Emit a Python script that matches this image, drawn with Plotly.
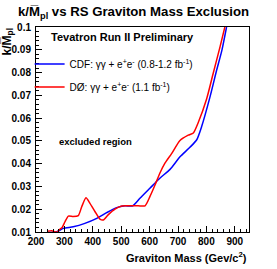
import plotly.graph_objects as go

# CDF: gamma gamma + ee (0.8-1.2 fb^-1)
cdf_mass = [240, 273, 296, 331, 372, 414, 449, 484, 513, 541, 566, 601, 636, 672, 707, 742, 766, 783, 812, 836, 854, 871]
cdf_k = [0.0098, 0.0101, 0.0116, 0.0123, 0.0138, 0.0160, 0.0185, 0.0207, 0.0215, 0.0215, 0.0248, 0.0292, 0.0336, 0.0375, 0.0430, 0.0472, 0.0505, 0.0562, 0.0690, 0.0810, 0.0895, 0.1000]

# D0: gamma gamma + ee (1.1 fb^-1)
d0_mass = [240, 255, 273, 284, 292, 302, 314, 331, 349, 361, 376, 390, 408, 425, 437, 454, 478, 502, 523, 560, 584, 601, 619, 636, 654, 678, 707, 736, 754, 771, 801, 824, 848, 865]
d0_k = [0.0103, 0.0106, 0.0099, 0.0112, 0.0120, 0.0145, 0.0170, 0.0168, 0.0172, 0.0211, 0.0250, 0.0226, 0.0189, 0.0157, 0.0153, 0.0175, 0.0200, 0.0214, 0.0215, 0.0215, 0.0215, 0.0255, 0.0306, 0.0358, 0.0402, 0.0445, 0.0502, 0.0525, 0.0535, 0.0580, 0.0685, 0.0797, 0.0913, 0.1000]

y_ticks = [0.01, 0.02, 0.03, 0.04, 0.05, 0.06, 0.07, 0.08, 0.09, 0.1]
y_labels = ["0.01", "0.02", "0.03", "0.04", "0.05", "0.06", "0.07", "0.08", "0.09", "0.1"]

fig = go.Figure()
fig.add_trace(go.Scatter(
    x=cdf_mass, y=cdf_k, mode="lines", line=dict(color="#0000ff", width=1.5, shape="spline", smoothing=0.6),
    name="CDF: γγ + e<sup>+</sup>e<sup>-</sup> (0.8-1.2 fb<sup>-1</sup>)", legendgroup="a"))
fig.add_trace(go.Scatter(
    x=d0_mass, y=d0_k, mode="lines", line=dict(color="#ff0000", width=1.5, shape="spline", smoothing=0.6),
    name="DØ: γγ + e<sup>+</sup>e<sup>-</sup> (1.1 fb<sup>-1</sup>)", legendgroup="b"))

F = "Liberation Sans, Arial"
fig.update_layout(
    width=277, height=269,
    margin=dict(l=36, r=28, t=27, b=37, autoexpand=False),
    paper_bgcolor="white", plot_bgcolor="white",
    showlegend=True,
    legend=dict(x=-0.03, y=0.89, xanchor="left", yanchor="top", bgcolor="rgba(0,0,0,0)",
                font=dict(family=F, size=10, color="black"),
                tracegroupgap=4, itemwidth=30),
    font=dict(family=F, color="black"),
)
fig.update_xaxes(range=[200, 950], dtick=100, tick0=200, ticks="inside", ticklen=6, tickcolor="black",
                 automargin=False,
                 showgrid=False, zeroline=False, showline=True, mirror=True, linecolor="black", linewidth=1,
                 tickfont=dict(family=F, size=10, color="black", weight="bold"),
                 minor=dict(dtick=20, ticks="inside", ticklen=3, tickcolor="black"))
fig.update_yaxes(range=[0.01, 0.1], tickvals=y_ticks, ticktext=y_labels, ticks="inside", ticklen=6, tickcolor="black",
                 automargin=False,
                 showgrid=False, zeroline=False, showline=True, mirror=True, linecolor="black", linewidth=1,
                 tickfont=dict(family=F, size=10, color="black", weight="bold"),
                 ticklabelstandoff=2,
                 minor=dict(dtick=0.002, tick0=0.01, ticks="inside", ticklen=3, tickcolor="black"))

fig.add_annotation(text="<b>k/M̅<sub>pl</sub> vs RS Graviton Mass Exclusion</b>", xref="paper", yref="paper",
                   x=0.458, y=1.0, xanchor="center", yanchor="bottom", yshift=4, showarrow=False,
                   font=dict(family=F, size=13.2, color="black"))
fig.add_annotation(text="<b>k/M̅<sub>pl</sub></b>", xref="paper", yref="paper",
                   x=0, y=1.0, xanchor="right", yanchor="top", xshift=-19, showarrow=False, textangle=-90,
                   font=dict(family=F, size=12, color="black"))
fig.add_annotation(text="<b>Graviton Mass (Gev/c<sup>2</sup>)</b>", xref="paper", yref="paper",
                   x=1.0, y=0, xanchor="right", yanchor="top", yshift=-16, showarrow=False,
                   font=dict(family=F, size=11, color="black"))
fig.add_annotation(text="<b>Tevatron Run II Preliminary</b>", xref="paper", yref="paper",
                   x=0.06, y=0.95, xanchor="left", yanchor="middle", showarrow=False,
                   font=dict(family=F, size=11, color="black"))
fig.add_annotation(text="<b>excluded region</b>", xref="paper", yref="paper",
                   x=0.10, y=0.44, xanchor="left", yanchor="middle", showarrow=False,
                   font=dict(family=F, size=9.5, color="black"))

fig.write_html("out.html", config={"displayModeBar": False},
               post_script="document.body.style.margin='0';")
